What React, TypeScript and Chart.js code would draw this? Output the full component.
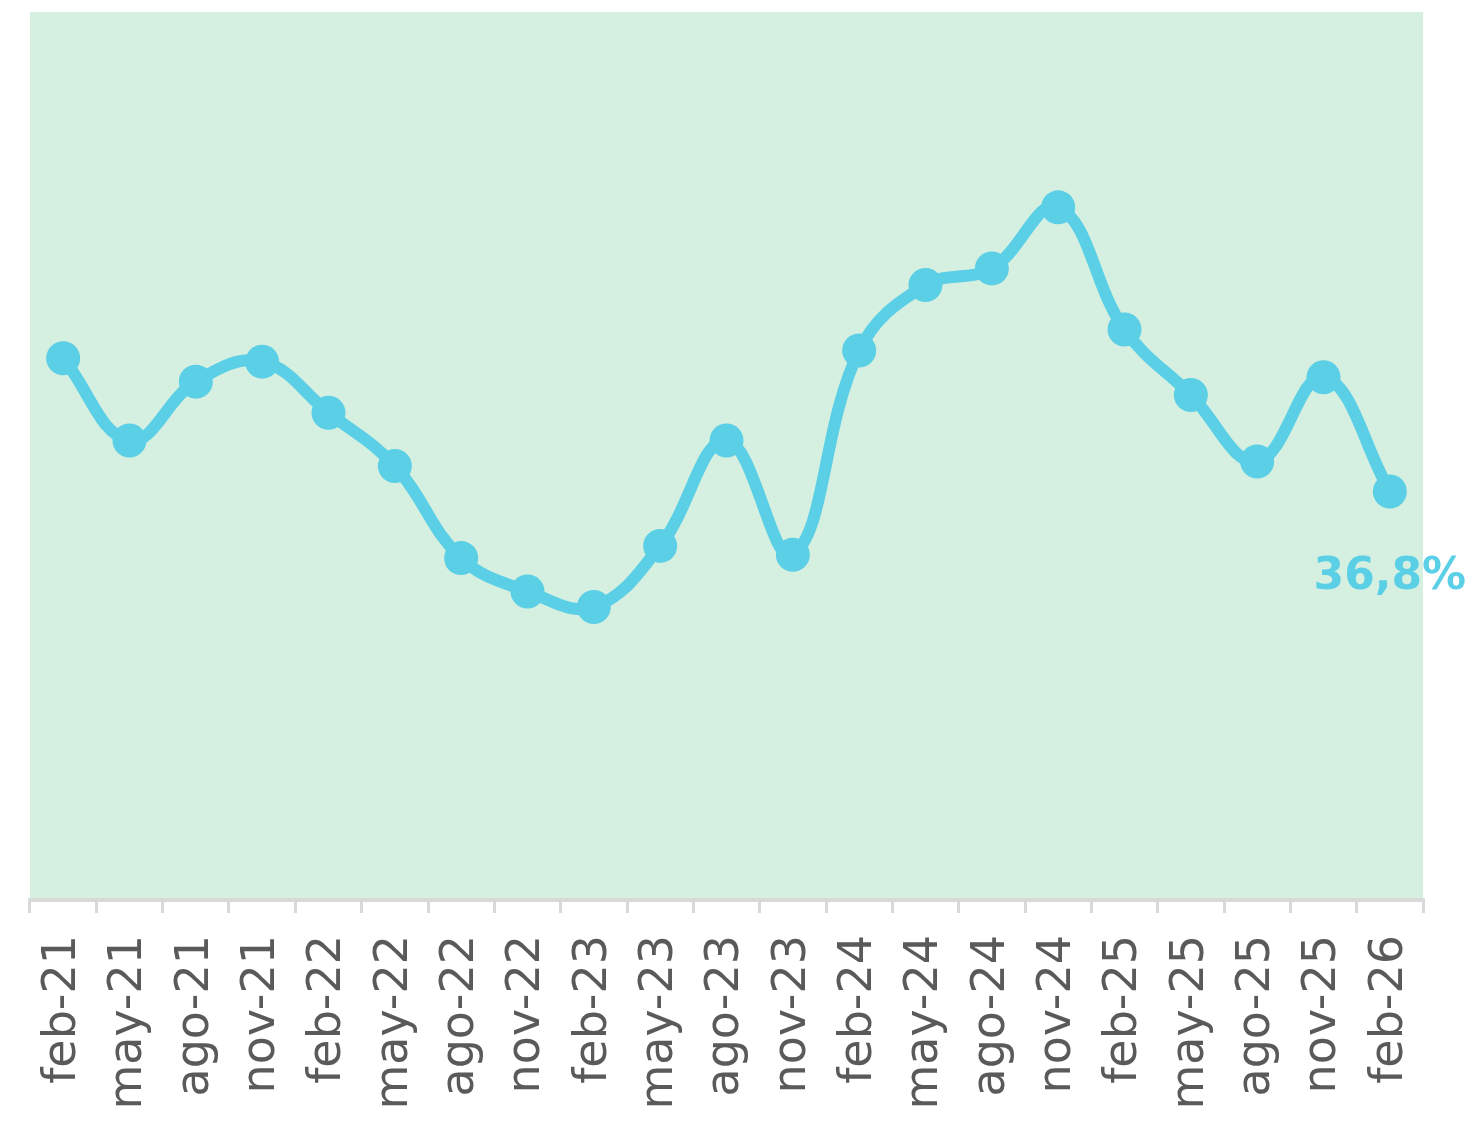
import React, { useEffect, useRef } from "react";
import { Chart, registerables } from "chart.js";

Chart.register(...registerables);

const categories = [
  "feb-21", "may-21", "ago-21", "nov-21",
  "feb-22", "may-22", "ago-22", "nov-22",
  "feb-23", "may-23", "ago-23", "nov-23",
  "feb-24", "may-24", "ago-24", "nov-24",
  "feb-25", "may-25", "ago-25", "nov-25",
  "feb-26",
];

const values = [
  48.8, 41.4, 46.7, 48.5,
  43.9, 39.1, 30.8, 27.8,
  26.4, 31.9, 41.4, 31.1,
  49.5, 55.4, 56.9, 62.4,
  51.4, 45.5, 39.5, 47.1,
  36.8,
];

const lastLabel = "36,8%";
const yMin = 0;
const yMax = 80;

const LINE = "#5BCFE5";
const BG = "#D5F0E1";

export default function App() {
  const ref = useRef<HTMLCanvasElement>(null);

  useEffect(() => {
    if (!ref.current) return;

    const bgPlugin = {
      id: "bgArea",
      beforeDraw(chart: any) {
        const { ctx, chartArea } = chart;
        ctx.save();
        ctx.fillStyle = BG;
        ctx.fillRect(chartArea.left, chartArea.top, chartArea.right - chartArea.left, chartArea.bottom - chartArea.top);
        ctx.restore();
      },
    };

    const labelPlugin = {
      id: "lastLabel",
      afterDatasetsDraw(chart: any) {
        const meta = chart.getDatasetMeta(0);
        const pt = meta.data[meta.data.length - 1];
        if (!pt) return;
        const ctx = chart.ctx;
        ctx.save();
        ctx.fillStyle = LINE;
        ctx.font = "bold 44px 'DejaVu Sans'";
        ctx.textAlign = "center";
        ctx.textBaseline = "middle";
        ctx.fillText(lastLabel, pt.x, pt.y + 86);
        ctx.restore();
      },
    };

    const chart = new Chart(ref.current, {
      type: "line",
      data: {
        labels: categories,
        datasets: [
          {
            data: values,
            borderColor: LINE,
            backgroundColor: LINE,
            borderWidth: 12,
            pointRadius: 17,
            pointHoverRadius: 17,
            pointBackgroundColor: LINE,
            pointBorderWidth: 0,
            tension: 0.4,
            fill: false,
          },
        ],
      },
      options: {
        responsive: false,
        animation: false,
        layout: { autoPadding: false, padding: { left: 30, right: 49, top: 12, bottom: 0 } },
        plugins: {
          legend: { display: false },
          tooltip: { enabled: false },
        },
        scales: {
          x: {
            offset: true,
            grid: {
              offset: true,
              drawOnChartArea: false,
              drawTicks: true,
              tickLength: 13,
              color: "#D9D9D9",
              lineWidth: 3,
            },
            border: { display: true, color: "#D9D9D9", width: 4 },
            ticks: {
              color: "#5A5A5A",
              font: { family: "'DejaVu Sans'", size: 46, weight: 400 as any },
              minRotation: 90,
              maxRotation: 90,
              padding: 22,
              autoSkip: false,
            },
            afterFit(scale: any) {
              scale.height = 223;
            },
          },
          y: {
            display: false,
            min: yMin,
            max: yMax,
          },
        },
      },
      plugins: [bgPlugin, labelPlugin],
    });

    return () => chart.destroy();
  }, []);

  return (
    <div style={{ position: "fixed", left: 0, top: 0, width: 1472, height: 1123, background: "#fff" }}>
      <canvas ref={ref} width={1472} height={1123} style={{ display: "block" }} />
    </div>
  );
}
